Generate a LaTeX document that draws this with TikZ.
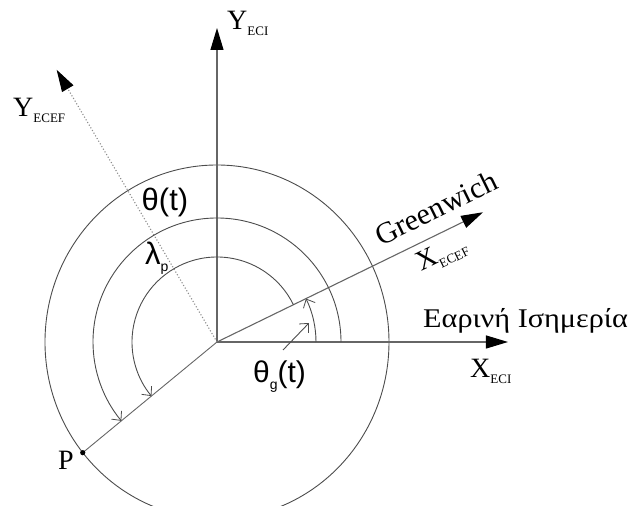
\documentclass[tikz,border=0pt]{standalone}
\usepackage{fontspec}
\setmainfont{Liberation Serif}
\newfontfamily\sansf{Liberation Sans}
\usetikzlibrary{arrows.meta}
\tikzset{
  axisline/.style={line width=1.1pt, draw=black!60, -{Triangle[length=22pt,width=13pt,color=black]}},
  dotaxis/.style={line width=1.1pt, draw=black!45, dotted, -{Triangle[length=22pt,width=13pt,color=black]}},
  ring/.style={line width=0.9pt, draw=black!70},
  anglearc/.style={line width=0.9pt, draw=black!70, -{Straight Barb[length=7pt,width=13pt,line width=0.8pt]}},
  seriflbl/.style={inner sep=0pt, font=\fontsize{28}{28}\selectfont},
  sanslbl/.style={inner sep=0pt, font=\sansf\fontsize{31}{31}\selectfont},
}
\newcommand{\subtxt}[1]{\raisebox{-6pt}{\fontsize{13}{13}\selectfont #1}}
\begin{document}
\begin{tikzpicture}[x=1pt,y=1pt]
\useasboundingbox (-217,-164) rectangle (416,342);
\coordinate (O) at (0,0);
\coordinate (yeciend) at (0,314);
\coordinate (xeciend) at (291,0);
\coordinate (gwend) at (26:296);
\coordinate (yecefend) at (120.5:316);
\coordinate (P) at (219.5:174);

% big circle
\draw[ring] (O) ellipse [x radius=172, y radius=177];

% axes
\draw[axisline] (O) -- (yeciend);
\draw[axisline] (O) -- (xeciend);
\draw[axisline] (O) -- (gwend);
\draw[dotaxis] (O) -- (yecefend);
\draw[ring, draw=black!60] (O) -- (P);
\fill (P) circle (2.6);

% angle arcs
\draw[anglearc] (0:124) arc[start angle=0, end angle=219.5, radius=124];
\draw[anglearc] (26:85) arc[start angle=26, end angle=219.5, radius=85];
\draw[anglearc] (0:99) arc[start angle=0, end angle=26, radius=99];
\coordinate (ptrA) at (66,-8);
\coordinate (ptrB) at (92,19);
\draw[anglearc] (ptrA) -- (ptrB);

% labels
\node[seriflbl, anchor=base west] (lyeci) at (10,312) {Y\subtxt{ECI}};
\node[seriflbl, anchor=base west] (lyecef) at (-204,225) {Y\subtxt{ECEF}};
\node[seriflbl, anchor=base west] (lxeci) at (253,-36) {X\subtxt{ECI}};
\node[seriflbl, anchor=base west, rotate=26] (lxecef) at (204,70) {X\subtxt{ECEF}};
\node[inner sep=0pt, rotate=26, font=\fontsize{30}{30}\selectfont] (lgw) at (219,134) {Greenwich};
\node[inner sep=0pt, anchor=base west, font=\fontsize{27}{27}\selectfont] (lvern) at (206,14) {\scalebox{1.12}[1]{Εαρινή Ισημερία}};
\node[sanslbl] (ltheta) at (-52,140) {θ(t)};
\node[sanslbl, anchor=base west] (llam) at (-72,77) {λ\raisebox{-7pt}{\fontsize{14}{14}\selectfont p}};
\node[sanslbl, anchor=base west, font=\sansf\fontsize{30}{30}\selectfont] (lthg) at (36,-41) {θ\raisebox{-7pt}{\fontsize{14}{14}\selectfont g}(t)};
\node[seriflbl, anchor=base west] (lP) at (-159,-128) {P};
\end{tikzpicture}
\end{document}
